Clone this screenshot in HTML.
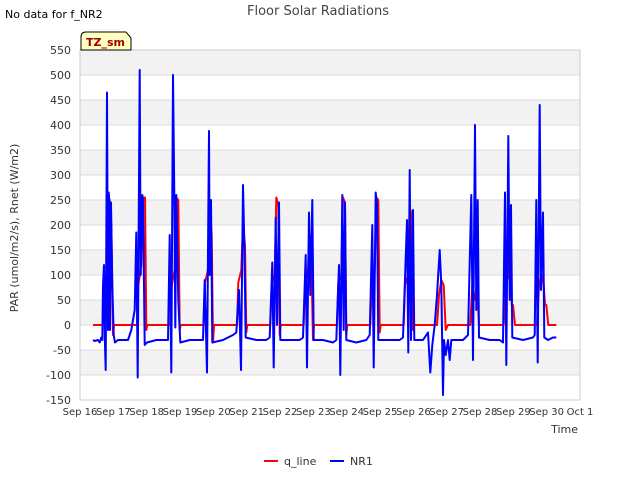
<!DOCTYPE html>
<html><head><meta charset="utf-8"><style>
body{margin:0;background:#fff;font-family:"Liberation Sans","DejaVu Sans",sans-serif}
svg text{font-family:"DejaVu Sans","Liberation Sans",sans-serif}
</style></head><body>
<svg id="c" width="640" height="480" xmlns="http://www.w3.org/2000/svg"></svg>
<script>
const xTickLabels=["Sep 16","Sep 17","Sep 18","Sep 19","Sep 20","Sep 21","Sep 22","Sep 23","Sep 24","Sep 25","Sep 26","Sep 27","Sep 28","Sep 29","Sep 30","Oct 1"];
const yTicks=[-150,-100,-50,0,50,100,150,200,250,300,350,400,450,500,550];
const nr1Times=[0.3,0.35,0.45,0.5,0.55,0.58,0.6,0.63,0.65,0.68,0.72,0.75,0.77,0.79,0.81,0.84,0.88,0.92,0.96,1.05,1.2,1.35,
1.45,1.55,1.6,1.64,1.7,1.73,1.78,1.8,1.85,1.92,2.2,2.45,
2.55,2.6,2.65,2.7,2.74,2.77,2.8,2.86,2.92,3.2,3.5,
3.6,3.65,3.72,3.78,3.8,3.84,3.88,4.2,4.5,
4.6,4.68,4.74,4.8,4.84,4.88,5.2,5.5,
5.6,5.68,5.72,5.78,5.82,5.88,5.92,6.2,6.5,
6.6,6.68,6.72,6.78,6.82,6.88,6.92,7.2,7.5,
7.6,7.68,7.72,7.78,7.82,7.86,7.9,8.2,8.5,
8.6,8.68,8.72,8.78,8.82,8.86,9.2,9.5,
9.6,9.72,9.76,9.8,9.84,9.9,9.94,10.2,10.35,
10.42,10.48,10.55,10.62,10.7,10.75,10.8,10.83,10.88,10.95,11.0,11.05,11.2,11.4,
11.55,11.65,11.7,11.76,11.8,11.84,11.88,12.2,12.5,
12.6,12.66,12.7,12.76,12.8,12.84,12.88,13.2,13.5,
13.55,13.6,13.64,13.7,13.74,13.8,13.84,13.95,14.1,14.2];
const nr1Values=[-30,-32,-30,-35,-25,-30,80,120,-20,-90,465,-10,265,250,-10,245,80,-20,-35,-30,-30,-30,
-10,30,185,-105,510,100,260,250,-40,-35,-30,-30,
-30,180,-95,500,260,-5,260,50,-35,-30,-30,
-30,90,-95,388,100,250,-35,-30,-20,
-15,70,-90,280,165,-25,-30,-30,
-25,125,-85,215,0,245,-30,-30,-30,
-25,140,-85,225,60,250,-30,-30,-35,
-30,120,-100,260,-10,245,-30,-35,-30,
-20,200,-85,265,240,-30,-30,-30,
-25,210,-55,310,-30,230,-30,-30,-15,
-95,-40,0,60,150,80,-140,-30,-60,-30,-70,-30,-30,-30,
-20,260,-70,400,30,250,-25,-30,-30,
-35,265,-80,378,50,240,-25,-30,-25,
-20,250,-75,440,70,225,-25,-30,-25,-25];
const qTimes=[0.3,0.62,0.65,0.75,0.8,0.85,0.9,0.93,0.96,
1.62,1.66,1.75,1.8,1.86,1.9,1.93,1.96,
2.62,2.66,2.75,2.8,2.86,2.9,2.93,2.96,
3.62,3.66,3.75,3.8,3.86,3.9,3.93,3.96,
4.62,4.66,4.75,4.8,4.86,4.9,4.93,4.96,
5.62,5.66,5.75,5.8,5.86,5.9,5.93,5.96,
6.62,6.66,6.75,6.8,6.86,6.9,6.93,6.96,
7.62,7.66,7.75,7.8,7.86,7.9,7.93,7.96,
8.62,8.66,8.75,8.8,8.86,8.9,8.93,8.96,
9.62,9.66,9.75,9.8,9.86,9.9,9.93,9.96,
10.62,10.68,10.75,10.82,10.88,10.95,10.98,
11.62,11.68,11.75,11.82,11.88,11.92,11.96,
12.62,12.68,12.76,12.82,12.86,12.9,12.96,
13.62,13.68,13.76,13.82,13.86,13.9,13.96,14.2];
const qValues=[0,0,80,120,250,200,-20,0,0,
0,80,120,255,255,-10,0,0,
0,80,110,255,250,-10,0,0,
0,85,110,245,180,-35,0,0,
0,85,110,200,160,-15,0,0,
0,80,100,255,240,-20,0,0,
0,80,110,180,100,-30,0,0,
0,85,100,255,245,-20,0,0,
0,80,110,255,250,-15,0,0,
0,80,100,235,220,-10,0,0,
0,60,90,80,-10,0,0,
0,80,50,80,0,0,0,
0,80,100,200,40,40,0,
0,80,100,80,40,40,0,0];
const NS="http://www.w3.org/2000/svg",svg=document.getElementById('c');
const X0=80,X1=580,Y0=400,Y1=50,seriesShift=0.09;
function xs(d){return X0+(d/15)*(X1-X0);}
function ys(v){return Y0-(v+150)/700*(Y0-Y1);}
function mk(t,a,txt){const e=document.createElementNS(NS,t);for(const k in a)e.setAttribute(k,a[k]);if(txt!=null)e.textContent=txt;svg.appendChild(e);return e;}
for(let i=0;i<yTicks.length-1;i++){if(i%2===1){const b=mk('rect',{x:X0,y:ys(yTicks[i+1]),width:X1-X0,height:ys(yTicks[i])-ys(yTicks[i+1]),fill:'#f2f2f2'});

}}
yTicks.forEach(v=>{const l=mk('line',{x1:X0,x2:X1,y1:ys(v),y2:ys(v),stroke:'#dcdcdc'});


const t=mk('text',{x:X0-9,y:ys(v)+4,'text-anchor':'end','font-size':11,fill:'#333'},v);

});
const fr=mk('rect',{x:X0,y:Y1,width:X1-X0,height:Y0-Y1,fill:'none',stroke:'#ccc'});


xTickLabels.forEach((s,i)=>{const t=mk('text',{x:xs(i),y:415,'text-anchor':'middle','font-size':10,fill:'#333'},s);

});
function line(ts,vs,col,name){const p=ts.map((t,i)=>(i?'L':'M')+xs(t+seriesShift).toFixed(1)+','+ys(vs[i]).toFixed(1)).join('');
const e=mk('path',{d:p,fill:'none',stroke:col,'stroke-width':2,'stroke-linejoin':'round'});

}
line(qTimes,qValues,'#ff0000','q-line-series');
line(nr1Times,nr1Values,'#0000ff','nr1-series');
const ti=mk('text',{x:318,y:15,'text-anchor':'middle','font-size':13,fill:'#444'},'Floor Solar Radiations');


const nd=mk('text',{x:5,y:18,'font-size':11,fill:'#000'},'No data for f_NR2');


const tb=mk('path',{d:'M81,50 L81,37 Q81,32 86,32 L126,32 L131,38 L131,50 Z',fill:'#ffffc0',stroke:'#000'});


const tt=mk('text',{x:86,y:46,'font-size':11,'font-weight':'bold',fill:'#a00000'},'TZ_sm');


const ya=mk('text',{x:18,y:228,'text-anchor':'middle','font-size':11,fill:'#333',transform:'rotate(-90 18 228)'},'PAR (umol/m2/s), Rnet (W/m2)');


const xa=mk('text',{x:578,y:433,'text-anchor':'end','font-size':11,fill:'#333'},'Time');


const l1=mk('line',{x1:264,x2:278,y1:461,y2:461,stroke:'#ff0000','stroke-width':2});


const l1t=mk('text',{x:284,y:465,'font-size':11,fill:'#333'},'q_line');


const l2=mk('line',{x1:330,x2:344,y1:461,y2:461,stroke:'#0000ff','stroke-width':2});


const l2t=mk('text',{x:350,y:465,'font-size':11,fill:'#333'},'NR1');


</script>
</body></html>
